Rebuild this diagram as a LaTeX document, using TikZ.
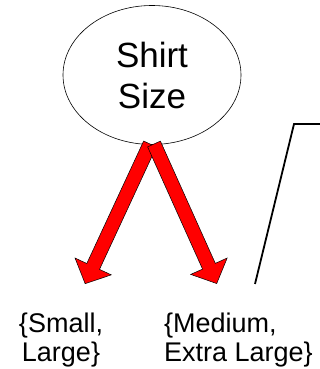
\documentclass[tikz,border=0pt]{standalone}
\usepackage{fontspec}
\setmainfont{Liberation Sans}
\usetikzlibrary{shapes.geometric}
\tikzset{
  bubble/.style={ellipse, draw=black, line width=0.6pt, minimum width=178pt, minimum height=139pt, inner sep=0pt,
    align=center, font=\fontsize{35}{41}\selectfont},
  setlabel/.style={inner sep=0pt, font=\fontsize{27}{29.5}\selectfont},
  blockarrow/.style={fill=red, draw=black, line width=0.5pt, line join=miter},
  callout/.style={draw=black, line width=1.8pt}
}
\newcommand{\bigarrow}[3]{% start, angle, length
  \begin{scope}[shift={#1}, rotate=#2]
    \draw[blockarrow] (0,-7) -- (#3-19,-7) -- (#3-19,-20) -- (#3,0) -- (#3-19,20) -- (#3-19,7) -- (0,7) -- cycle;
  \end{scope}}
\begin{document}
\begin{tikzpicture}[x=1pt,y=1pt]
  \useasboundingbox (0,0) rectangle (320,369);
  \node[bubble] (ss) at (152,294) {Shirt\\Size};
  \node[setlabel, align=center, anchor=base] (l1) at (61,7) {\{Small,\\Large\}};
  \node[setlabel, align=left, anchor=base west] (l2) at (164,7) {\{Medium,\\Extra Large\}};
  \coordinate (t1) at (85,84);
  \coordinate (t2) at (217,84);
  \coordinate (s1) at (150,225);
  \coordinate (s2) at (154,225);
  \bigarrow{(s1)}{-114.9}{154}
  \bigarrow{(s2)}{-65.8}{153}
  \coordinate (c0) at (255,85);
  \coordinate (c1) at (294,245);
  \coordinate (c2) at (320,245);
  \draw[callout] (c0) -- (c1) -- (c2);
\end{tikzpicture}
\end{document}
